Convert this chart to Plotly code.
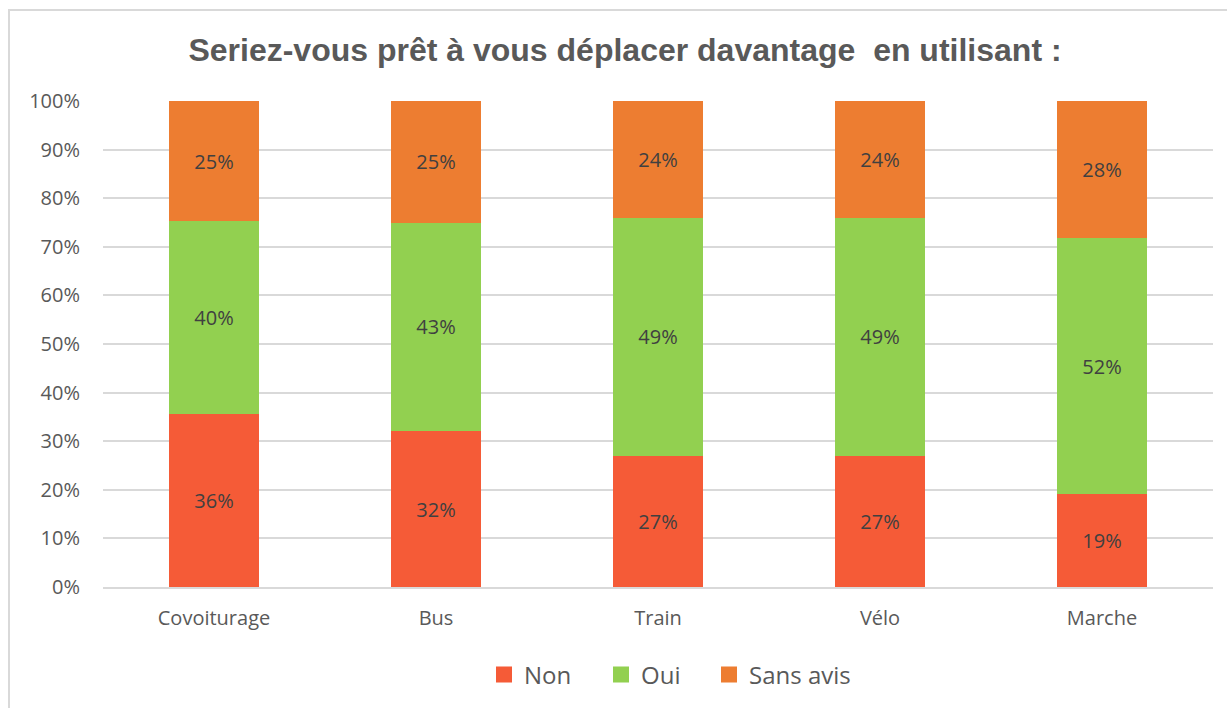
import plotly.graph_objects as go

categories = ["Covoiturage", "Bus", "Train", "Vélo", "Marche"]
non = [36, 32, 27, 27, 19]
oui = [40, 43, 49, 49, 52]
sans_avis = [25, 25, 24, 24, 28]

series = [("Non", non, "#F55B37"), ("Oui", oui, "#92D050"), ("Sans avis", sans_avis, "#ED7D31")]
FONT = "Open Sans, Noto Sans, sans-serif"

W, H = 1227, 708
L, R, T, B = 103, 14, 101, 121
pw, ph = W - L - R, H - T - B

def px(x):
    return (x - L) / pw

def py(y):
    return (H - B - y) / ph

fig = go.Figure()
for name, vals, col in series:
    fig.add_trace(go.Bar(
        x=categories, y=vals, name=name, marker=dict(color=col, line=dict(width=0)),
        text=[f"{v}%" for v in vals], textposition="inside", insidetextanchor="middle",
        textfont=dict(family=FONT, size=20, color="#404040"),
        hoverinfo="skip", showlegend=False,
    ))

# legend entries with larger square swatches, one legend each for exact spacing
legend_ids = ["legend", "legend2", "legend3"]
legend_px = [484, 601, 709]
for (name, vals, col), lid in zip(series, legend_ids):
    fig.add_trace(go.Scatter(
        x=[categories[0]], y=[None], mode="markers", name=name, legend=lid,
        marker=dict(symbol="square", size=17, color=col), hoverinfo="skip", showlegend=True,
    ))

legend_common = dict(orientation="h", xanchor="left", y=py(675), yanchor="middle",
                     font=dict(family=FONT, size=24, color="#595959"),
                     itemwidth=30, bgcolor="rgba(0,0,0,0)")

fig.update_layout(
    width=W, height=H, barmode="stack", barnorm="percent", bargap=0.595,
    margin=dict(l=L, r=R, t=T, b=B, autoexpand=False),
    paper_bgcolor="white", plot_bgcolor="white",
    title=dict(text="<b>Seriez-vous prêt à vous déplacer davantage  en utilisant :</b>",
               xref="container", x=625 / W, xanchor="center", y=1 - 50 / H, yanchor="middle",
               font=dict(family="Liberation Sans, Arial, sans-serif", size=32, color="#595959")),
    legend=dict(x=px(legend_px[0]), **legend_common),
    legend2=dict(x=px(legend_px[1]), **legend_common),
    legend3=dict(x=px(legend_px[2]), **legend_common),
    showlegend=True,
)
fig.update_yaxes(range=[0, 100], tickvals=list(range(0, 101, 10)),
                 ticktext=[f"{v}%" for v in range(0, 101, 10)],
                 showgrid=True, gridcolor="#D9D9D9", gridwidth=2, zeroline=False,
                 showline=False, ticks="", ticklabelstandoff=22,
                 tickfont=dict(family=FONT, size=20, color="#595959"))
fig.update_xaxes(showgrid=False, zeroline=False, showline=True, linecolor="#D9D9D9", linewidth=2,
                 ticks="", ticklabelstandoff=12,
                 tickfont=dict(family=FONT, size=20, color="#595959"))
fig.add_shape(type="rect", xref="paper", yref="paper",
              x0=px(9), x1=px(1240), y0=py(720), y1=py(10),
              line=dict(color="#D9D9D9", width=2), fillcolor="rgba(0,0,0,0)", layer="below")

fig.write_html("out.html", config={"displayModeBar": False},
               post_script="document.body.style.margin='0';")
